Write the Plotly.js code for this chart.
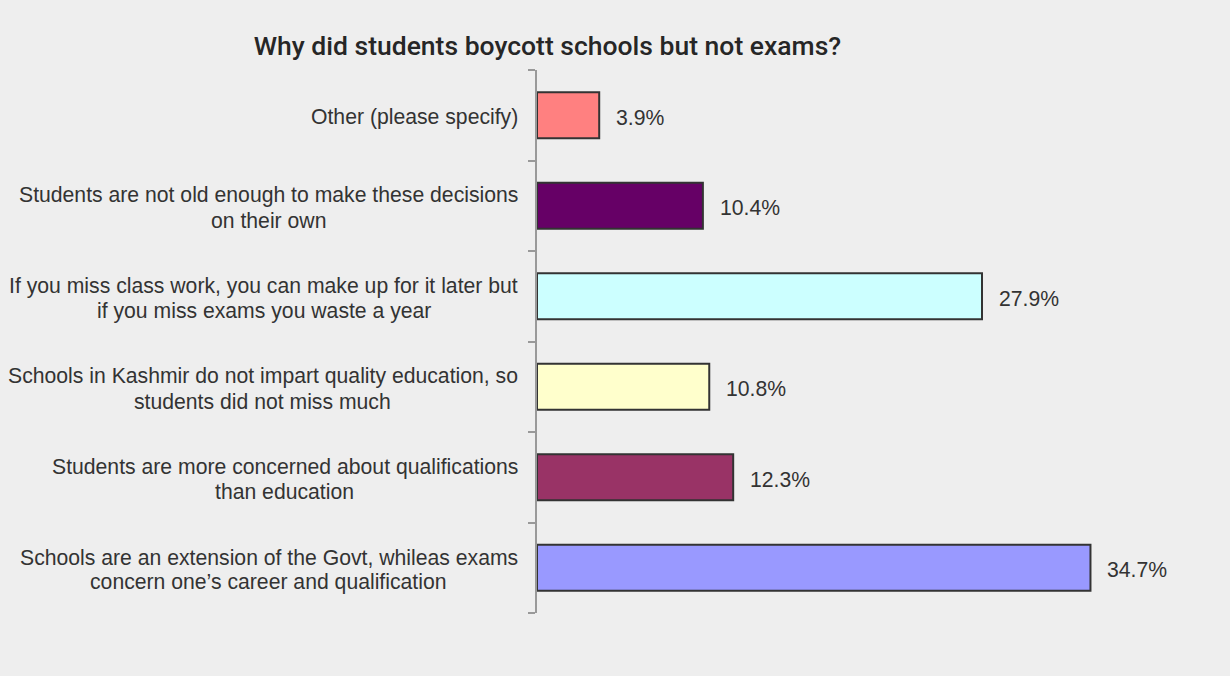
<!DOCTYPE html>
<html>
<head>
<meta charset="utf-8">
<script src="https://cdn.plot.ly/plotly-3.0.1.min.js"></script>
<style>html,body{margin:0;padding:0;background:#eeeeee;}#chart{width:1230px;height:676px;}</style>
</head>
<body>
<div id="chart"></div>
<script>
// Categories from bottom to top
const categories = [
  "Schools are an extension of the Govt, whileas exams<br>concern one’s career and qualification",
  "Students are more concerned about qualifications<br>than education",
  "Schools in Kashmir do not impart quality education, so<br>students did not miss much",
  "If you miss class work, you can make up for it later but<br>if you miss exams you waste a year",
  "Students are not old enough to make these decisions<br>on their own",
  "Other (please specify)"
];
const values = [34.7, 12.3, 10.8, 27.9, 10.4, 3.9];
const barColors = ["#9999FF", "#993366", "#FFFFCC", "#CCFFFF", "#660066", "#FF8080"];
const valueLabels = values.map(v => v.toFixed(1) + "%");

const textFont = {family: "'Liberation Sans', Arial, sans-serif", size: 21.2, color: "#333333"};
const linePitch = 25;
const textDrop = -2;

const trace = {
  type: "bar",
  orientation: "h",
  y: categories,
  x: values,
  marker: {color: barColors, line: {color: "#333333", width: 2}},
  hoverinfo: "x+y"
};

const valueAnnotations = categories.map((c, i) => ({
  x: values[i], y: c, xref: "x", yref: "y",
  text: valueLabels[i], showarrow: false,
  xanchor: "left", yanchor: "middle", xshift: 15, yshift: textDrop,
  font: textFont
}));

// Category labels: centred lines in a block right-aligned to the axis
const labelAnnotations = [];
categories.forEach((c) => {
  const lines = c.split("<br>");
  const n = lines.length;
  lines.forEach((ln, j) => {
    labelAnnotations.push({
      x: 0, y: c, xref: "paper", yref: "y",
      text: ln, showarrow: false,
      xanchor: "right", yanchor: "middle",
      xshift: -17, yshift: ((n - 1) / 2 - j) * linePitch + textDrop,
      font: textFont, _block: c
    });
  });
});

const layout = {
  width: 1230, height: 676,
  paper_bgcolor: "#eeeeee", plot_bgcolor: "#eeeeee",
  margin: {l: 537, r: 55, t: 70, b: 63},
  bargap: 0.49,
  showlegend: false,
  title: {
    text: "Why did students boycott schools but not exams?",
    x: 0.4451, xref: "container", xanchor: "center",
    y: 0.933, yref: "container", yanchor: "middle",
    font: {family: "Roboto, sans-serif", size: 26.5, color: "#262626", weight: 500}
  },
  xaxis: {range: [0, 40], visible: false, fixedrange: true},
  yaxis: {
    type: "category",
    showline: true, linecolor: "#999999", linewidth: 2,
    ticks: "outside", ticklen: 7, tickcolor: "#999999", tickwidth: 2,
    tickson: "boundaries",
    showgrid: false, zeroline: false,
    showticklabels: false
  },
  annotations: valueAnnotations.concat(labelAnnotations.map(a => {
    const o = Object.assign({}, a); delete o._block; return o;
  }))
};

Plotly.newPlot("chart", [trace], layout, {displayModeBar: false}).then(gd => {
  // centre the shorter lines under the widest line of each block
  const nodes = gd.querySelectorAll(".annotation");
  const offset = valueAnnotations.length;
  const widths = labelAnnotations.map((a, k) => {
    const t = nodes[offset + k].querySelector("text");
    return t ? t.getBBox().width : 0;
  });
  const blockMax = {};
  labelAnnotations.forEach((a, k) => {
    blockMax[a._block] = Math.max(blockMax[a._block] || 0, widths[k]);
  });
  const ann = gd.layout.annotations.map((a, k) => {
    if (k < offset) return a;
    const la = labelAnnotations[k - offset];
    const extra = (blockMax[la._block] - widths[k - offset]) / 2;
    return Object.assign({}, a, {xshift: -17 - extra});
  });
  return Plotly.relayout(gd, {annotations: ann});
});
</script>
</body>
</html>
